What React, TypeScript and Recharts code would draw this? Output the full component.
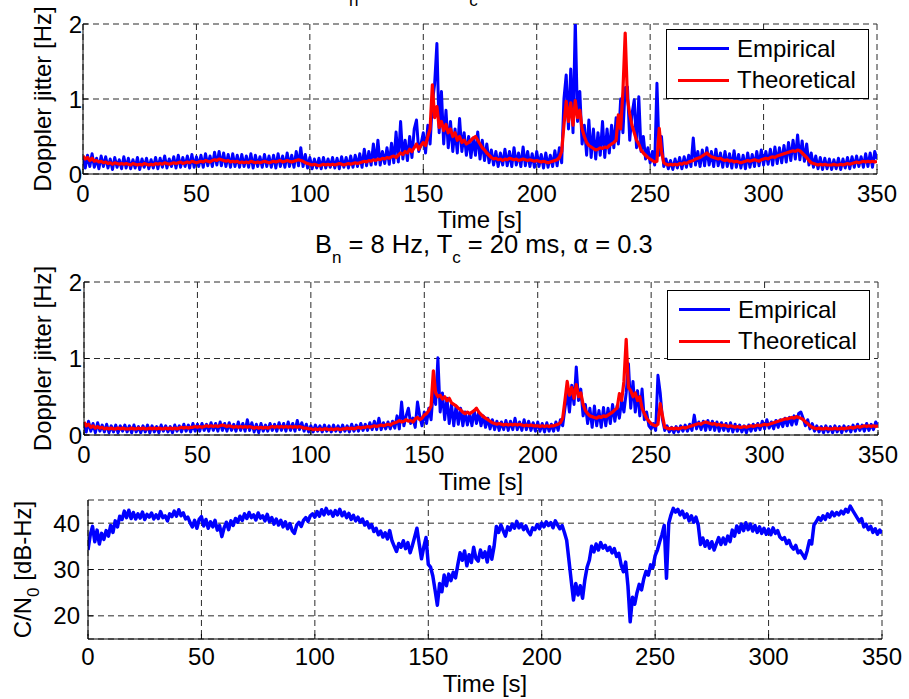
import { LineChart, Line, XAxis, YAxis, CartesianGrid, Legend } from "recharts";

const FONT = '"Liberation Sans", Arial, Helvetica, sans-serif';
const W = 909;
const H = 699;
const Y_AXIS_W = 60;
const X_AXIS_H = 40;

const X_TICKS = [0, 50, 100, 150, 200, 250, 300, 350];
const JITTER_TICKS = [0, 1, 2];
const CN0_TICKS = [20, 30, 40];

// sample times, 1 s apart
const TIME = Array.from({ length: 351 }, (_, i) => i);

// top panel: Doppler jitter [Hz]
const EMP_A = [
  0.22, 0.08, 0.25, 0.10, 0.27, 0.09, 0.21, 0.07, 0.24, 0.10,
  0.23, 0.08, 0.20, 0.06, 0.22, 0.09, 0.19, 0.07, 0.23, 0.08,
  0.21, 0.07, 0.19, 0.08, 0.22, 0.06, 0.20, 0.09, 0.21, 0.07,
  0.19, 0.08, 0.22, 0.07, 0.21, 0.09, 0.24, 0.08, 0.20, 0.10,
  0.23, 0.08, 0.25, 0.09, 0.22, 0.10, 0.24, 0.08, 0.26, 0.09,
  0.23, 0.10, 0.25, 0.09, 0.27, 0.11, 0.24, 0.10, 0.29, 0.12,
  0.30, 0.11, 0.28, 0.10, 0.26, 0.09, 0.27, 0.10, 0.25, 0.09,
  0.26, 0.10, 0.24, 0.09, 0.27, 0.08, 0.25, 0.10, 0.23, 0.09,
  0.26, 0.10, 0.24, 0.09, 0.25, 0.08, 0.27, 0.10, 0.24, 0.09,
  0.28, 0.10, 0.25, 0.09, 0.30, 0.11, 0.35, 0.10, 0.26, 0.08,
  0.22, 0.07, 0.20, 0.08, 0.21, 0.07, 0.22, 0.08, 0.20, 0.09,
  0.22, 0.08, 0.21, 0.07, 0.23, 0.09, 0.22, 0.08, 0.24, 0.09,
  0.25, 0.10, 0.27, 0.09, 0.33, 0.11, 0.30, 0.12, 0.40, 0.13,
  0.45, 0.12, 0.30, 0.14, 0.35, 0.13, 0.41, 0.15, 0.56, 0.16,
  0.70, 0.20, 0.45, 0.18, 0.50, 0.22, 0.60, 0.72, 0.30, 0.40,
  0.55, 0.28, 0.65, 0.40, 0.95, 1.20, 1.74, 0.55, 1.10, 0.40,
  0.85, 0.35, 0.70, 0.30, 0.60, 0.28, 0.74, 0.30, 0.55, 0.25,
  0.50, 0.22, 0.48, 0.25, 0.56, 0.20, 0.45, 0.18, 0.40, 0.15,
  0.32, 0.12, 0.30, 0.10, 0.28, 0.12, 0.33, 0.11, 0.30, 0.10,
  0.35, 0.12, 0.28, 0.10, 0.36, 0.11, 0.30, 0.10, 0.27, 0.09,
  0.30, 0.10, 0.26, 0.08, 0.28, 0.09, 0.25, 0.10, 0.31, 0.11,
  0.35, 0.15, 1.00, 1.32, 0.60, 1.40, 0.55, 2.05, 0.70, 1.10,
  0.40, 0.65, 0.25, 0.72, 0.22, 0.60, 0.20, 0.55, 0.25, 0.70,
  0.22, 0.60, 0.28, 0.65, 0.35, 0.75, 0.40, 1.00, 0.55, 1.15,
  1.16, 0.45, 0.80, 0.99, 0.35, 1.03, 0.30, 0.50, 0.20, 0.35,
  0.15, 0.30, 0.12, 1.21, 0.25, 0.50, 0.10, 0.20, 0.07, 0.18,
  0.06, 0.20, 0.08, 0.22, 0.07, 0.23, 0.09, 0.25, 0.10, 0.48,
  0.12, 0.30, 0.10, 0.32, 0.11, 0.35, 0.12, 0.30, 0.10, 0.33,
  0.11, 0.28, 0.09, 0.30, 0.10, 0.27, 0.08, 0.31, 0.09, 0.26,
  0.08, 0.25, 0.07, 0.28, 0.09, 0.26, 0.10, 0.30, 0.11, 0.32,
  0.12, 0.30, 0.13, 0.33, 0.12, 0.36, 0.14, 0.35, 0.15, 0.38,
  0.16, 0.42, 0.18, 0.45, 0.20, 0.52, 0.19, 0.44, 0.17, 0.40,
  0.12, 0.28, 0.09, 0.24, 0.07, 0.22, 0.06, 0.21, 0.07, 0.20,
  0.06, 0.19, 0.07, 0.21, 0.06, 0.20, 0.08, 0.22, 0.07, 0.23,
  0.09, 0.24, 0.10, 0.23, 0.09, 0.27, 0.10, 0.28, 0.09, 0.30,
  0.20,
];

const THEO_A = [
  0.24, 0.20, 0.22, 0.18, 0.21, 0.17, 0.18, 0.16, 0.17, 0.15,
  0.16, 0.14, 0.15, 0.13, 0.15, 0.14, 0.13, 0.14, 0.13, 0.14,
  0.13, 0.12, 0.14, 0.13, 0.12, 0.13, 0.12, 0.14, 0.13, 0.12,
  0.13, 0.12, 0.14, 0.13, 0.14, 0.13, 0.15, 0.14, 0.13, 0.14,
  0.15, 0.14, 0.15, 0.16, 0.14, 0.15, 0.16, 0.15, 0.17, 0.16,
  0.15, 0.16, 0.17, 0.16, 0.18, 0.17, 0.16, 0.18, 0.19, 0.18,
  0.20, 0.19, 0.18, 0.17, 0.18, 0.16, 0.17, 0.16, 0.17, 0.15,
  0.16, 0.15, 0.16, 0.15, 0.17, 0.16, 0.15, 0.16, 0.15, 0.16,
  0.17, 0.16, 0.15, 0.16, 0.17, 0.16, 0.17, 0.18, 0.16, 0.17,
  0.18, 0.17, 0.16, 0.17, 0.18, 0.19, 0.18, 0.17, 0.15, 0.14,
  0.13, 0.12, 0.13, 0.12, 0.11, 0.12, 0.13, 0.12, 0.13, 0.12,
  0.13, 0.12, 0.13, 0.14, 0.13, 0.12, 0.13, 0.14, 0.13, 0.14,
  0.15, 0.14, 0.15, 0.16, 0.17, 0.16, 0.18, 0.17, 0.19, 0.18,
  0.20, 0.19, 0.21, 0.20, 0.22, 0.21, 0.23, 0.24, 0.22, 0.25,
  0.28, 0.26, 0.30, 0.28, 0.33, 0.30, 0.35, 0.40, 0.33, 0.38,
  0.42, 0.38, 0.50, 0.60, 1.19, 0.75, 0.90, 0.62, 0.70, 0.58,
  0.66, 0.55, 0.60, 0.50, 0.55, 0.45, 0.50, 0.42, 0.45, 0.40,
  0.42, 0.45, 0.48, 0.50, 0.45, 0.40, 0.35, 0.32, 0.28, 0.25,
  0.22, 0.20, 0.21, 0.19, 0.20, 0.18, 0.20, 0.19, 0.21, 0.20,
  0.19, 0.20, 0.18, 0.19, 0.20, 0.19, 0.18, 0.19, 0.18, 0.17,
  0.18, 0.17, 0.16, 0.17, 0.16, 0.15, 0.16, 0.17, 0.18, 0.19,
  0.22, 0.30, 0.65, 0.97, 0.70, 0.95, 0.65, 0.98, 0.75, 0.85,
  0.60, 0.50, 0.42, 0.38, 0.36, 0.34, 0.32, 0.33, 0.35, 0.34,
  0.36, 0.35, 0.38, 0.40, 0.42, 0.45, 0.79, 0.60, 1.10, 1.88,
  1.00, 0.80, 0.65, 0.55, 0.45, 0.40, 0.32, 0.28, 0.25, 0.22,
  0.20, 0.18, 0.16, 0.17, 0.61, 0.30, 0.15, 0.13, 0.12, 0.13,
  0.12, 0.13, 0.12, 0.14, 0.13, 0.15, 0.14, 0.16, 0.17, 0.18,
  0.20, 0.21, 0.22, 0.24, 0.26, 0.28, 0.25, 0.23, 0.22, 0.21,
  0.20, 0.21, 0.19, 0.18, 0.19, 0.17, 0.18, 0.16, 0.17, 0.16,
  0.15, 0.16, 0.17, 0.18, 0.17, 0.18, 0.19, 0.18, 0.17, 0.19,
  0.20, 0.21, 0.20, 0.22, 0.23, 0.22, 0.24, 0.25, 0.26, 0.27,
  0.28, 0.29, 0.30, 0.31, 0.30, 0.32, 0.31, 0.28, 0.25, 0.22,
  0.18, 0.15, 0.14, 0.13, 0.12, 0.13, 0.12, 0.13, 0.12, 0.12,
  0.12, 0.13, 0.12, 0.12, 0.13, 0.12, 0.13, 0.14, 0.13, 0.14,
  0.15, 0.16, 0.15, 0.16, 0.17, 0.16, 0.17, 0.16, 0.17, 0.16,
  0.17,
];

// middle panel: B_n = 8 Hz, T_c = 20 ms, alpha = 0.3
const EMP_B = [
  0.16, 0.04, 0.18, 0.05, 0.15, 0.03, 0.16, 0.05, 0.13, 0.04,
  0.14, 0.03, 0.12, 0.04, 0.13, 0.03, 0.12, 0.05, 0.13, 0.04,
  0.12, 0.03, 0.13, 0.04, 0.11, 0.03, 0.12, 0.04, 0.13, 0.03,
  0.12, 0.04, 0.11, 0.03, 0.13, 0.05, 0.12, 0.04, 0.11, 0.03,
  0.13, 0.05, 0.12, 0.04, 0.14, 0.05, 0.13, 0.04, 0.15, 0.05,
  0.14, 0.05, 0.15, 0.06, 0.14, 0.05, 0.16, 0.06, 0.15, 0.05,
  0.17, 0.06, 0.15, 0.05, 0.16, 0.06, 0.14, 0.05, 0.17, 0.06,
  0.15, 0.05, 0.20, 0.06, 0.16, 0.04, 0.14, 0.03, 0.15, 0.05,
  0.13, 0.05, 0.15, 0.06, 0.14, 0.05, 0.16, 0.06, 0.15, 0.05,
  0.17, 0.06, 0.15, 0.05, 0.19, 0.07, 0.16, 0.05, 0.14, 0.04,
  0.12, 0.04, 0.13, 0.05, 0.12, 0.04, 0.13, 0.05, 0.12, 0.04,
  0.13, 0.05, 0.12, 0.04, 0.13, 0.05, 0.12, 0.04, 0.14, 0.05,
  0.13, 0.05, 0.15, 0.06, 0.14, 0.06, 0.16, 0.07, 0.18, 0.07,
  0.22, 0.07, 0.16, 0.08, 0.17, 0.08, 0.18, 0.09, 0.25, 0.08,
  0.43, 0.12, 0.25, 0.35, 0.15, 0.22, 0.10, 0.43, 0.25, 0.12,
  0.30, 0.15, 0.35, 0.20, 0.60, 0.40, 1.01, 0.30, 0.55, 0.20,
  0.48, 0.15, 0.40, 0.12, 0.38, 0.14, 0.35, 0.12, 0.30, 0.13,
  0.28, 0.12, 0.32, 0.15, 0.30, 0.12, 0.25, 0.10, 0.22, 0.08,
  0.20, 0.07, 0.18, 0.06, 0.17, 0.07, 0.19, 0.06, 0.18, 0.07,
  0.22, 0.07, 0.17, 0.06, 0.20, 0.07, 0.18, 0.06, 0.16, 0.05,
  0.17, 0.05, 0.15, 0.04, 0.16, 0.05, 0.14, 0.05, 0.17, 0.06,
  0.20, 0.12, 0.35, 0.55, 0.30, 0.65, 0.40, 0.89, 0.45, 0.60,
  0.25, 0.40, 0.15, 0.35, 0.10, 0.38, 0.12, 0.32, 0.10, 0.36,
  0.12, 0.35, 0.15, 0.40, 0.18, 0.38, 0.22, 0.45, 0.30, 0.55,
  0.93, 0.35, 0.70, 0.30, 0.58, 0.25, 0.60, 0.20, 0.30, 0.12,
  0.08, 0.15, 0.06, 0.78, 0.55, 0.20, 0.06, 0.12, 0.04, 0.10,
  0.03, 0.11, 0.04, 0.12, 0.05, 0.13, 0.05, 0.14, 0.06, 0.26,
  0.08, 0.17, 0.07, 0.18, 0.06, 0.19, 0.07, 0.18, 0.06, 0.17,
  0.05, 0.16, 0.06, 0.15, 0.05, 0.16, 0.04, 0.14, 0.05, 0.13,
  0.04, 0.12, 0.03, 0.13, 0.05, 0.14, 0.06, 0.15, 0.07, 0.18,
  0.08, 0.20, 0.09, 0.17, 0.08, 0.19, 0.10, 0.20, 0.11, 0.22,
  0.12, 0.23, 0.13, 0.25, 0.14, 0.28, 0.30, 0.22, 0.12, 0.20,
  0.08, 0.15, 0.05, 0.12, 0.04, 0.11, 0.03, 0.12, 0.04, 0.11,
  0.03, 0.12, 0.04, 0.11, 0.03, 0.12, 0.05, 0.11, 0.04, 0.13,
  0.05, 0.14, 0.06, 0.13, 0.05, 0.15, 0.06, 0.14, 0.07, 0.17,
  0.12,
];

const THEO_B = [
  0.17, 0.12, 0.14, 0.10, 0.12, 0.09, 0.11, 0.09, 0.10, 0.08,
  0.09, 0.08, 0.09, 0.08, 0.08, 0.09, 0.08, 0.09, 0.08, 0.08,
  0.08, 0.09, 0.08, 0.08, 0.09, 0.08, 0.09, 0.08, 0.08, 0.09,
  0.08, 0.09, 0.08, 0.09, 0.08, 0.08, 0.09, 0.08, 0.09, 0.08,
  0.09, 0.08, 0.09, 0.10, 0.09, 0.10, 0.09, 0.10, 0.10, 0.11,
  0.10, 0.11, 0.10, 0.11, 0.12, 0.11, 0.12, 0.11, 0.12, 0.11,
  0.12, 0.13, 0.12, 0.11, 0.12, 0.11, 0.10, 0.11, 0.10, 0.11,
  0.10, 0.11, 0.10, 0.11, 0.10, 0.09, 0.10, 0.09, 0.10, 0.09,
  0.10, 0.09, 0.10, 0.11, 0.10, 0.11, 0.10, 0.11, 0.10, 0.11,
  0.10, 0.11, 0.10, 0.11, 0.10, 0.11, 0.10, 0.09, 0.09, 0.08,
  0.08, 0.07, 0.08, 0.07, 0.08, 0.07, 0.08, 0.08, 0.07, 0.08,
  0.07, 0.08, 0.08, 0.07, 0.08, 0.08, 0.09, 0.08, 0.09, 0.08,
  0.09, 0.10, 0.09, 0.10, 0.10, 0.11, 0.10, 0.11, 0.12, 0.11,
  0.12, 0.13, 0.12, 0.13, 0.14, 0.13, 0.15, 0.16, 0.17, 0.19,
  0.17, 0.18, 0.20, 0.18, 0.19, 0.17, 0.21, 0.23, 0.20, 0.22,
  0.26, 0.28, 0.32, 0.38, 0.84, 0.55, 0.50, 0.52, 0.47, 0.50,
  0.45, 0.48, 0.42, 0.40, 0.38, 0.35, 0.33, 0.30, 0.28, 0.30,
  0.28, 0.30, 0.32, 0.35, 0.30, 0.27, 0.24, 0.22, 0.20, 0.18,
  0.16, 0.15, 0.14, 0.15, 0.14, 0.13, 0.14, 0.13, 0.14, 0.13,
  0.14, 0.13, 0.14, 0.13, 0.12, 0.13, 0.12, 0.13, 0.12, 0.12,
  0.12, 0.11, 0.12, 0.11, 0.12, 0.11, 0.12, 0.12, 0.13, 0.14,
  0.16, 0.22, 0.45, 0.70, 0.52, 0.62, 0.48, 0.66, 0.50, 0.55,
  0.40, 0.32, 0.28, 0.25, 0.24, 0.23, 0.22, 0.24, 0.23, 0.25,
  0.24, 0.26, 0.28, 0.30, 0.33, 0.35, 0.54, 0.45, 0.70, 1.25,
  0.62, 0.58, 0.50, 0.55, 0.45, 0.50, 0.35, 0.28, 0.22, 0.18,
  0.15, 0.13, 0.12, 0.14, 0.41, 0.25, 0.10, 0.09, 0.08, 0.09,
  0.08, 0.09, 0.08, 0.09, 0.10, 0.09, 0.10, 0.11, 0.12, 0.13,
  0.14, 0.15, 0.14, 0.16, 0.17, 0.16, 0.15, 0.14, 0.15, 0.13,
  0.14, 0.12, 0.13, 0.12, 0.11, 0.12, 0.11, 0.10, 0.11, 0.10,
  0.10, 0.11, 0.10, 0.11, 0.12, 0.11, 0.12, 0.13, 0.12, 0.13,
  0.14, 0.13, 0.14, 0.15, 0.16, 0.17, 0.18, 0.19, 0.20, 0.21,
  0.21, 0.22, 0.23, 0.22, 0.24, 0.23, 0.22, 0.20, 0.17, 0.15,
  0.12, 0.10, 0.09, 0.08, 0.09, 0.08, 0.08, 0.09, 0.08, 0.08,
  0.08, 0.09, 0.08, 0.08, 0.09, 0.08, 0.09, 0.09, 0.10, 0.09,
  0.10, 0.11, 0.10, 0.11, 0.12, 0.11, 0.12, 0.11, 0.12, 0.11,
  0.12,
];

// bottom panel: C/N0 [dB-Hz]
const CN0 = [
  34.2, 37.5, 39.3, 36.0, 38.5, 35.5, 37.8, 36.5, 38.4, 37.2,
  39.5, 38.0, 40.5, 39.2, 41.5, 40.8, 42.6, 41.2, 42.8, 41.0,
  42.3, 40.9, 42.0, 41.1, 42.4, 40.8, 41.9, 41.3, 42.2, 40.9,
  41.8, 41.0, 42.5, 41.2, 41.6, 40.5, 42.0, 41.4, 42.6, 41.5,
  42.9, 41.6, 42.2, 40.9, 41.3, 40.1, 39.2, 40.6, 38.9, 40.8,
  41.4, 39.4, 40.8, 38.9, 40.3, 39.2, 40.6, 38.5, 39.5, 37.1,
  39.0, 40.2, 38.6, 40.5, 39.5, 41.0, 40.2, 41.5, 40.6, 42.0,
  41.0, 42.3, 41.2, 41.8, 40.7, 42.2, 41.1, 41.6, 40.5, 41.9,
  40.3, 41.2, 39.8, 40.9, 39.6, 40.6, 39.2, 40.3, 38.8, 39.9,
  38.4, 37.8, 39.6, 40.2, 39.3, 40.6, 41.2, 40.4, 41.6, 42.0,
  41.3, 42.5, 41.5, 42.9, 41.8, 43.2, 42.0, 42.6, 41.5, 42.7,
  41.8, 43.0, 41.6, 42.4, 41.2, 42.1, 40.8, 41.7, 40.5, 41.3,
  40.2, 40.9, 39.6, 40.3, 39.0, 39.7, 38.2, 38.9, 37.5, 38.3,
  37.0, 37.9, 36.6, 38.4, 36.2, 35.0, 33.9, 35.6, 34.8, 36.2,
  34.5, 35.8, 33.6, 35.2, 37.0, 38.9, 35.5, 32.3, 34.8, 36.9,
  31.1, 30.5, 28.6, 25.5, 22.3, 27.0, 25.2, 28.8, 26.5, 29.0,
  27.6, 29.4, 28.2, 31.0, 33.6, 32.0, 34.0, 30.8, 33.2, 31.5,
  34.8, 32.4, 31.8, 34.2, 32.6, 33.8, 31.6, 34.9, 32.2, 35.0,
  39.3, 38.0, 39.6, 38.4, 37.2, 39.2, 38.5, 39.8, 38.9, 40.4,
  39.0, 39.8, 38.6, 39.4, 38.2, 37.5, 39.0, 38.6, 39.7, 38.8,
  40.0, 39.2, 40.3, 39.5, 40.1, 39.0, 40.5, 39.6, 38.8, 39.5,
  38.0, 36.3, 32.0, 27.6, 23.4, 27.0, 24.5, 26.5, 23.8, 27.7,
  30.5, 32.0, 35.0, 33.8, 35.5, 34.2, 35.8, 34.6, 35.2, 34.1,
  34.8, 33.6, 34.5, 32.8, 33.5, 31.0, 29.5, 31.6, 26.5, 18.7,
  24.0, 22.5, 25.0, 26.8, 25.6, 28.0, 29.6, 28.8, 31.0, 30.4,
  33.0, 34.2, 36.0, 37.5, 39.5, 28.1, 40.0, 41.8, 43.2, 42.4,
  43.0, 41.8, 42.6, 41.2, 42.0, 40.5, 41.6, 40.2, 41.3, 39.6,
  35.4, 36.8, 35.0, 36.2, 34.6, 36.0, 34.2, 35.6, 36.9, 35.4,
  36.8, 35.5, 37.2, 36.0, 38.5, 37.2, 39.4, 38.0, 39.8, 38.4,
  40.1, 38.6, 39.8, 38.3, 39.5, 38.0, 39.2, 37.8, 38.9, 37.6,
  38.7, 37.5, 39.0, 37.8, 38.4, 37.0, 36.5, 36.9, 35.6, 36.3,
  35.0, 34.4, 35.2, 33.6, 34.0, 33.2, 32.4, 34.0, 36.2, 35.5,
  39.6, 40.3, 41.2, 40.6, 41.6, 40.8, 42.0, 41.3, 42.4, 41.6,
  42.3, 41.8, 42.6, 42.0, 43.0, 42.4, 43.7, 42.8, 42.0, 41.2,
  40.4, 41.0, 39.2, 39.8, 38.6, 39.3, 38.0, 38.8, 37.6, 38.5,
  37.8,
];

const jitterTop = TIME.map((t, i) => ({ t, emp: EMP_A[i], theo: THEO_A[i] }));
const jitterMid = TIME.map((t, i) => ({ t, emp: EMP_B[i], theo: THEO_B[i] }));
const cn0Data = TIME.map((t, i) => ({ t, cn0: CN0[i] }));

const JITTER_SERIES = [
  { key: "emp", name: "Empirical", color: "#0000ff", width: 3 },
  { key: "theo", name: "Theoretical", color: "#ff0000", width: 3.2 },
];
const CN0_SERIES = [{ key: "cn0", name: "C/N0", color: "#0000ff", width: 3.5 }];

const AXIS = { stroke: "#000", strokeWidth: 1 };
const TICK = { fill: "#000", fontSize: 24, fontFamily: FONT };

type Plot = { left: number; top: number; right: number; bottom: number };

function LegendBox({ payload }: { payload?: Array<{ value: string; color: string }> }) {
  return (
    <div
      style={{
        position: "relative",
        width: 203,
        height: 70,
        boxSizing: "border-box",
        border: "1px solid #000",
        background: "#fff",
        fontFamily: FONT,
      }}
    >
      {(payload ?? []).map((p, i) => {
        const cy = 18.7 + i * 31.3;
        return (
          <div key={p.value}>
            <div
              style={{
                position: "absolute",
                left: 11,
                top: cy - 1.5,
                width: 51,
                height: 3,
                background: p.color,
              }}
            />
            <div
              style={{
                position: "absolute",
                left: 70,
                top: cy - 15,
                height: 30,
                lineHeight: "30px",
                fontSize: 24,
                color: "#000",
                whiteSpace: "nowrap",
              }}
            >
              {p.value}
            </div>
          </div>
        );
      })}
    </div>
  );
}

function Panel({
  data,
  plot,
  yDomain,
  yTicks,
  xTickMargin,
  yTickMargin,
  series,
  legendAt,
}: {
  data: Array<Record<string, number>>;
  plot: Plot;
  yDomain: [number, number];
  yTicks: number[];
  xTickMargin: number;
  yTickMargin: number;
  series: typeof JITTER_SERIES;
  legendAt?: { left: number; top: number };
}) {
  const margin = {
    left: plot.left - Y_AXIS_W,
    right: W - plot.right,
    top: plot.top,
    bottom: H - plot.bottom - X_AXIS_H,
  };
  return (
    <div style={{ position: "absolute", left: 0, top: 0 }}>
      <LineChart width={W} height={H} data={data} margin={margin}>
        <CartesianGrid stroke="#2a2a2a" strokeDasharray="6 4" />
        <XAxis
          dataKey="t"
          type="number"
          domain={[0, 350]}
          ticks={X_TICKS}
          interval={0}
          allowDataOverflow
          height={X_AXIS_H}
          tickSize={-5}
          tickMargin={xTickMargin}
          axisLine={AXIS}
          tickLine={AXIS}
          tick={TICK}
        />
        <XAxis
          xAxisId="top"
          orientation="top"
          dataKey="t"
          type="number"
          domain={[0, 350]}
          ticks={X_TICKS}
          interval={0}
          allowDataOverflow
          height={0}
          tickSize={-5}
          axisLine={AXIS}
          tickLine={AXIS}
          tick={false}
        />
        <YAxis
          type="number"
          domain={yDomain}
          ticks={yTicks}
          interval={0}
          allowDataOverflow
          width={Y_AXIS_W}
          tickSize={-5}
          tickMargin={yTickMargin}
          axisLine={AXIS}
          tickLine={AXIS}
          tick={TICK}
        />
        <YAxis
          yAxisId="right"
          orientation="right"
          type="number"
          domain={yDomain}
          ticks={yTicks}
          interval={0}
          allowDataOverflow
          width={0}
          tickSize={-5}
          axisLine={AXIS}
          tickLine={AXIS}
          tick={false}
        />
        {series.map((s) => (
          <Line
            key={s.key}
            dataKey={s.key}
            name={s.name}
            stroke={s.color}
            strokeWidth={s.width}
            strokeLinejoin="round"
            dot={false}
            activeDot={false}
            isAnimationActive={false}
          />
        ))}
        {legendAt && (
          <Legend
            layout="vertical"
            align="center"
            verticalAlign="middle"
            content={<LegendBox />}
            wrapperStyle={{ left: legendAt.left, top: legendAt.top, width: 203, height: 70 }}
          />
        )}
      </LineChart>
    </div>
  );
}

function Title({ x, y, alpha }: { x: number; y: number; alpha: string }) {
  return (
    <text x={x} y={y} fontSize={25.5} fill="#000">
      B<tspan dy={10} fontSize={17}>n</tspan>
      <tspan dy={-10}> = 8 Hz, T</tspan>
      <tspan dy={10} fontSize={17}>c</tspan>
      <tspan dy={-10}>{` = 20 ms, α = ${alpha}`}</tspan>
    </text>
  );
}

export default function App() {
  return (
    <div style={{ position: "absolute", left: 0, top: 0, width: W, height: H, background: "#fff" }}>
      <Panel
        data={jitterTop}
        plot={{ left: 83, top: 24, right: 877, bottom: 174 }}
        yDomain={[0, 2]}
        yTicks={JITTER_TICKS}
        xTickMargin={16}
        yTickMargin={6}
        series={JITTER_SERIES}
        legendAt={{ left: 666, top: 29 }}
      />
      <Panel
        data={jitterMid}
        plot={{ left: 84, top: 282, right: 878, bottom: 435 }}
        yDomain={[0, 2]}
        yTicks={JITTER_TICKS}
        xTickMargin={16}
        yTickMargin={7}
        series={JITTER_SERIES}
        legendAt={{ left: 667, top: 290 }}
      />
      <Panel
        data={cn0Data}
        plot={{ left: 88, top: 500, right: 882, bottom: 639 }}
        yDomain={[15, 45]}
        yTicks={CN0_TICKS}
        xTickMargin={14}
        yTickMargin={13}
        series={CN0_SERIES}
      />
      <svg
        width={W}
        height={H}
        style={{ position: "absolute", left: 0, top: 0, pointerEvents: "none" }}
        fontFamily={FONT}
      >
        <Title x={332} y={-4} alpha="0.3" />
        <Title x={315} y={253} alpha="0.3" />
        <g fontSize={24} fill="#000" textAnchor="middle">
          <text x={480} y={228}>Time [s]</text>
          <text x={481} y={490}>Time [s]</text>
          <text x={485} y={692}>Time [s]</text>
          <text x={51} y={99} transform="rotate(-90 51 99)">Doppler jitter [Hz]</text>
          <text x={51} y={358.5} transform="rotate(-90 51 358.5)">Doppler jitter [Hz]</text>
          <text x={31} y={569.5} transform="rotate(-90 31 569.5)">
            C/N<tspan dy={8} fontSize={17}>0</tspan>
            <tspan dy={-8}> [dB-Hz]</tspan>
          </text>
        </g>
      </svg>
    </div>
  );
}
